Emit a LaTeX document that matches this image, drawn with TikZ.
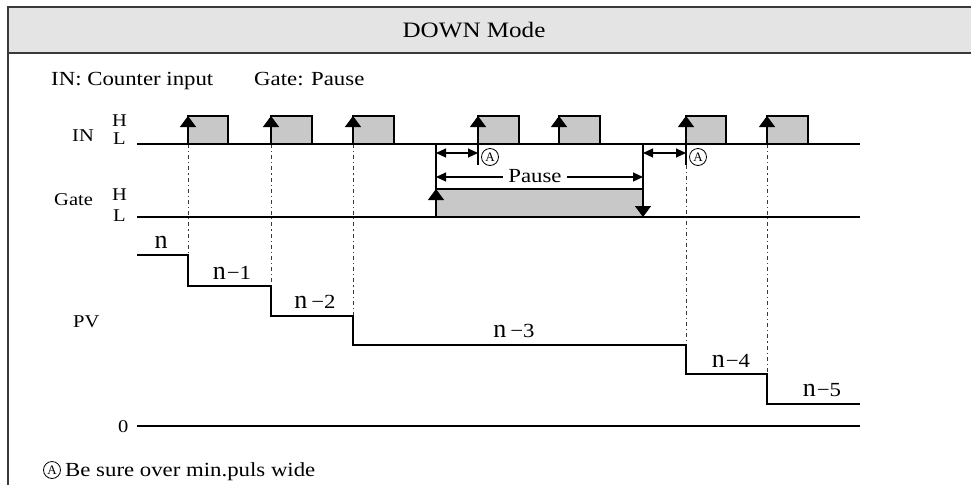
\documentclass[tikz,border=0pt]{standalone}
\usepackage{fontspec}
\usepackage{graphicx}
\setmainfont{Liberation Serif}
\newfontfamily\nfont{Liberation Serif}
\usetikzlibrary{arrows.meta}
\definecolor{hdrgray}{HTML}{E4E4E4}
\definecolor{pulsegray}{HTML}{C8C8C8}
\definecolor{framegray}{HTML}{3A3A3A}
\newcommand{\wide}[1]{\scalebox{1.14}[1]{#1}}
\newcommand{\nlab}[2]{{\nfont\fontsize{26}{28}\selectfont n}\kern#1{\fontsize{20}{22}\selectfont\wide{−#2}}}
\begin{document}
\begin{tikzpicture}[x=1pt,y=-1pt,
  sig/.style={line width=1.1pt, black},
  pulsebox/.style={draw=black, line width=1.1pt, fill=pulsegray},
  edgearrow/.style={line width=1.1pt, -{Triangle[width=16pt,length=11pt]}},
  dimarrow/.style={line width=1.1pt, {Triangle[width=9pt,length=10pt]}-{Triangle[width=9pt,length=10pt]}},
  guide/.style={line width=1pt, framegray, dash pattern=on 4pt off 3pt on 1.2pt off 3pt},
  lbl/.style={inner sep=0pt, font=\fontsize{20}{23}\selectfont},
  side/.style={inner sep=0pt, font=\fontsize{18}{20}\selectfont},
  circA/.style={circle, draw, line width=0.8pt, inner sep=0.3pt, minimum size=17pt, font=\nfont\fontsize{13}{14}\selectfont}
]
\useasboundingbox (0,0) rectangle (971,485);
\fill[white] (0,0) rectangle (971,485);
% header
\fill[hdrgray] (8,7) rectangle (971,53);
\draw[framegray, line width=1.6pt] (971,7) -- (8,7) -- (8,485);
\draw[framegray, line width=1.6pt] (8,53) -- (971,53);
\node[inner sep=0pt, anchor=base, font=\fontsize{22}{25}\selectfont] (title) at (474,37.3) {\wide{DOWN Mode}};

\node[lbl, anchor=base west] (legin) at (51,85) {\wide{IN: Counter input}};
\node[lbl, anchor=base west] (leggate) at (254,85) {\wide{Gate: Pause}};

% left labels
\node[side, anchor=base west] (inlab) at (72,141.5) {\wide{IN}};
\node[side, anchor=base west] (inH) at (112,126) {\wide{H}};
\node[side, anchor=base west] (inL) at (113,144) {\wide{L}};
\node[side, anchor=base west] (gatelab) at (54,205) {\wide{Gate}};
\node[side, anchor=base west] (gateH) at (112,200) {\wide{H}};
\node[side, anchor=base west] (gateL) at (113,221.5) {\wide{L}};
\node[side, anchor=base west] (pvlab) at (73,327) {\wide{PV}};
\node[side, anchor=base west] (zerolab) at (118,432) {\wide{0}};

% guides
\draw[guide] (188,144) -- (188,255);
\draw[guide] (271,144) -- (271,286);
\draw[guide] (353,144) -- (353,316);
\draw[guide] (686,165) -- (686,345);
\draw[guide] (767,144) -- (767,374);

% IN signal
\draw[sig] (137,144) -- (860,144);
\foreach \r/\f in {188/228,271/312,353/394,478/519,559/600,686/726,767/808}{
  \draw[pulsebox] (\r,144) rectangle (\f,116);
  \draw[edgearrow] (\r,144) -- (\r,116);
}
\draw[sig] (478,144) -- (478,165);
\draw[sig] (686,144) -- (686,165);

% gate
\draw[pulsebox] (436,189) rectangle (643,217);
\draw[sig] (137,217) -- (860,217);
\draw[sig] (436,144) -- (436,189);
\draw[sig] (643,144) -- (643,189);
\draw[edgearrow] (436,217) -- (436,189);
\draw[edgearrow] (643,189) -- (643,217);

% dimensions
\draw[dimarrow] (436,153) -- (478,153);
\draw[dimarrow] (643,153) -- (686,153);
\node[circA] (a1) at (490,157) {A};
\node[circA] (a2) at (698,157) {A};
\draw[dimarrow] (436,177) -- (643,177);
\node[lbl, fill=white, inner xsep=5pt, inner ysep=1pt] (pause) at (535,176) {\wide{Pause}};

% PV steps
\draw[sig] (137,255) -- (188,255) -- (188,286) -- (271,286) -- (271,316) -- (353,316) -- (353,345) -- (686,345) -- (686,374) -- (767,374) -- (767,404) -- (860,404);
\draw[sig] (137,426) -- (860,426);

\node[inner sep=0pt, anchor=base] (n0) at (161,248) {\nfont\fontsize{26}{28}\selectfont n};
\node[inner sep=0pt, anchor=base] (n1) at (232,279) {\nlab{1pt}{1}};
\node[inner sep=0pt, anchor=base] (n2) at (315,308) {\nlab{4pt}{2}};
\node[inner sep=0pt, anchor=base] (n3) at (514,337) {\nlab{4pt}{3}};
\node[inner sep=0pt, anchor=base] (n4) at (731,367) {\nlab{1pt}{4}};
\node[inner sep=0pt, anchor=base] (n5) at (822,396) {\nlab{1pt}{5}};

% footer
\node[circA] (a3) at (52,470) {A};
\node[lbl, anchor=base west] (foot) at (65,476) {\wide{Be sure over min.puls wide}};
\end{tikzpicture}
\end{document}
